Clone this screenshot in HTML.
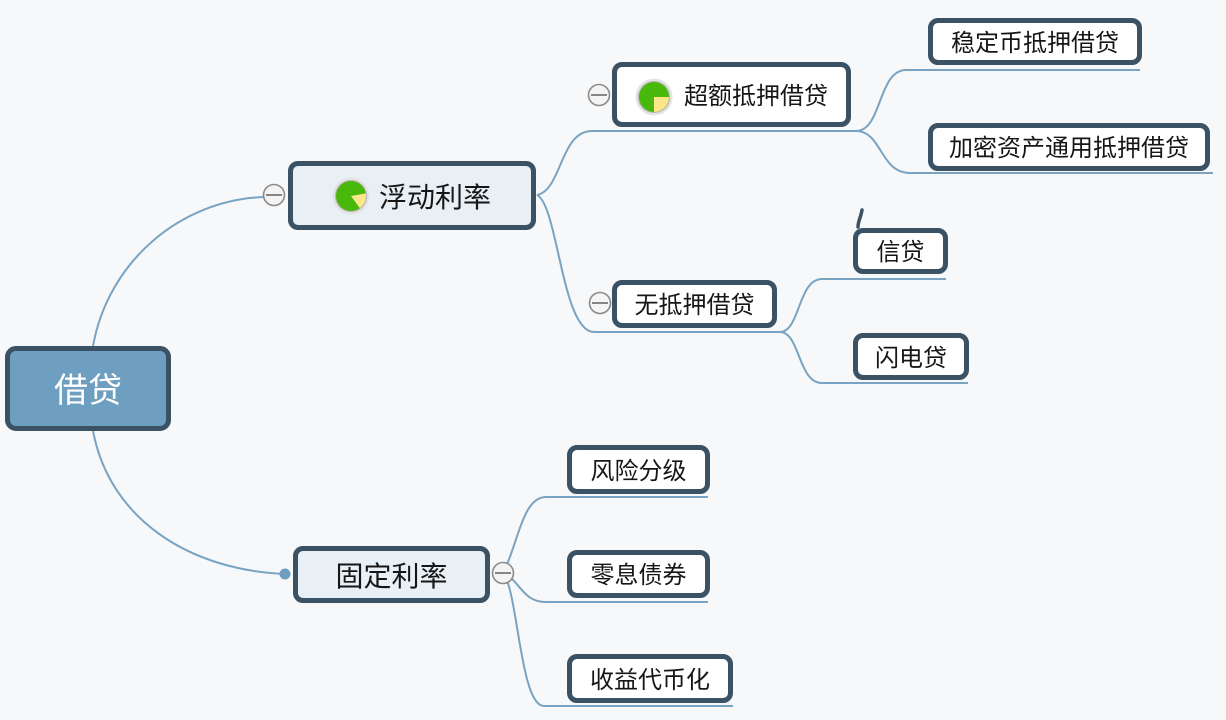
<!DOCTYPE html>
<html>
<head>
<meta charset="utf-8">
<style>
  html,body{margin:0;padding:0;}
  body{width:1226px;height:720px;position:relative;overflow:hidden;background:#f7f8f9;
       font-family:"Liberation Sans","Noto Sans CJK SC","WenQuanYi Zen Hei",sans-serif;}
  svg.lines{position:absolute;left:0;top:0;}
  .box{position:absolute;box-sizing:border-box;border:5px solid #3b5164;border-radius:10px;
       background:#ffffff;display:flex;align-items:center;justify-content:center;
       color:#161616;font-size:24px;line-height:1;white-space:nowrap;padding-top:4px;}
  .main{background:#e9f0f5;font-size:28px;}
  .root{background:#6f9fc0;color:#ffffff;font-size:34px;border-radius:11px;}
  .left{justify-content:flex-start;}
</style>
</head>
<body>
<svg class="lines" width="1226" height="720" viewBox="0 0 1226 720">
  <g fill="none" stroke="#79a3c3" stroke-width="2">
    <path d="M93,346 C108,262 180,200 264,197"/>
    <path d="M93,431 C110,520 190,570 285,574"/>
    <path d="M537,195 C562,190 560,131 592,131 L856,131"/>
    <path d="M537,195 C558,205 562,332 594,332 L780,332"/>
    <path d="M856,131 C882,131 878,70 906,70 L1140,70"/>
    <path d="M856,131 C882,131 880,173 910,173 L1213,173"/>
    <path d="M780,332 C800,332 798,279 822,279 L946,279"/>
    <path d="M780,332 C800,332 798,383 822,383 L968,383"/>
    <path d="M503,573 C518,545 522,497 546,497 L708,497"/>
    <path d="M503,573 C520,580 522,602 546,602 L708,602"/>
    <path d="M503,573 C518,590 520,706 544,706 L733,706"/>
  </g>
  <circle cx="285" cy="574" r="5.5" fill="#6f9fc0"/>
  <path d="M862,210 C861,217 858,221 858,227" stroke="#3b5164" stroke-width="3.5" fill="none" stroke-linecap="round"/>
</svg>

<div class="box root" style="left:5px;top:346px;width:166px;height:85px;">借贷</div>

<div class="box main left" style="left:288px;top:161px;width:248px;height:69px;padding-left:86px;">浮动利率</div>
<div class="box main" style="left:293px;top:546px;width:197px;height:57px;">固定利率</div>

<div class="box left" style="left:612px;top:62px;width:239px;height:65px;padding-left:67px;">超额抵押借贷</div>
<div class="box" style="left:612px;top:280px;width:165px;height:48px;">无抵押借贷</div>

<div class="box" style="left:928px;top:18px;width:214px;height:47px;">稳定币抵押借贷</div>
<div class="box" style="left:928px;top:123px;width:282px;height:48px;">加密资产通用抵押借贷</div>

<div class="box" style="left:853px;top:228px;width:95px;height:46px;">信贷</div>
<div class="box" style="left:853px;top:333px;width:116px;height:47px;">闪电贷</div>

<div class="box" style="left:567px;top:445px;width:143px;height:49px;">风险分级</div>
<div class="box" style="left:567px;top:550px;width:143px;height:48px;">零息债券</div>
<div class="box" style="left:567px;top:654px;width:166px;height:49px;">收益代币化</div>

<svg class="lines" width="1226" height="720" viewBox="0 0 1226 720">
  <g stroke="#8a8a8a" stroke-width="1.6" fill="#f4f4f4">
    <circle cx="274" cy="195" r="10.5"/>
    <circle cx="599" cy="95" r="10.5"/>
    <circle cx="600" cy="303" r="10.5"/>
    <circle cx="503" cy="573" r="10.5"/>
  </g>
  <g stroke="#7a7a7a" stroke-width="1.8">
    <line x1="266" y1="195" x2="282" y2="195"/>
    <line x1="591" y1="95" x2="607" y2="95"/>
    <line x1="592" y1="303" x2="608" y2="303"/>
    <line x1="495" y1="573" x2="511" y2="573"/>
  </g>
  <circle cx="351" cy="196" r="18.5" fill="#e3e3e3"/>
  <circle cx="351" cy="196" r="16" fill="#b5b5b5"/>
  <circle cx="351" cy="196" r="15" fill="#48b90a"/>
  <path d="M351,196 L365.8,193.4 A15,15 0 0,1 359.8,208.1 Z" fill="#fbe68a"/>
  <circle cx="654" cy="97" r="18.5" fill="#e3e3e3"/>
  <circle cx="654" cy="97" r="16" fill="#b5b5b5"/>
  <circle cx="654" cy="97" r="15" fill="#48b90a"/>
  <path d="M654,97 L669,97 A15,15 0 0,1 654,112 Z" fill="#fbe68a"/>
</svg>
</body>
</html>
